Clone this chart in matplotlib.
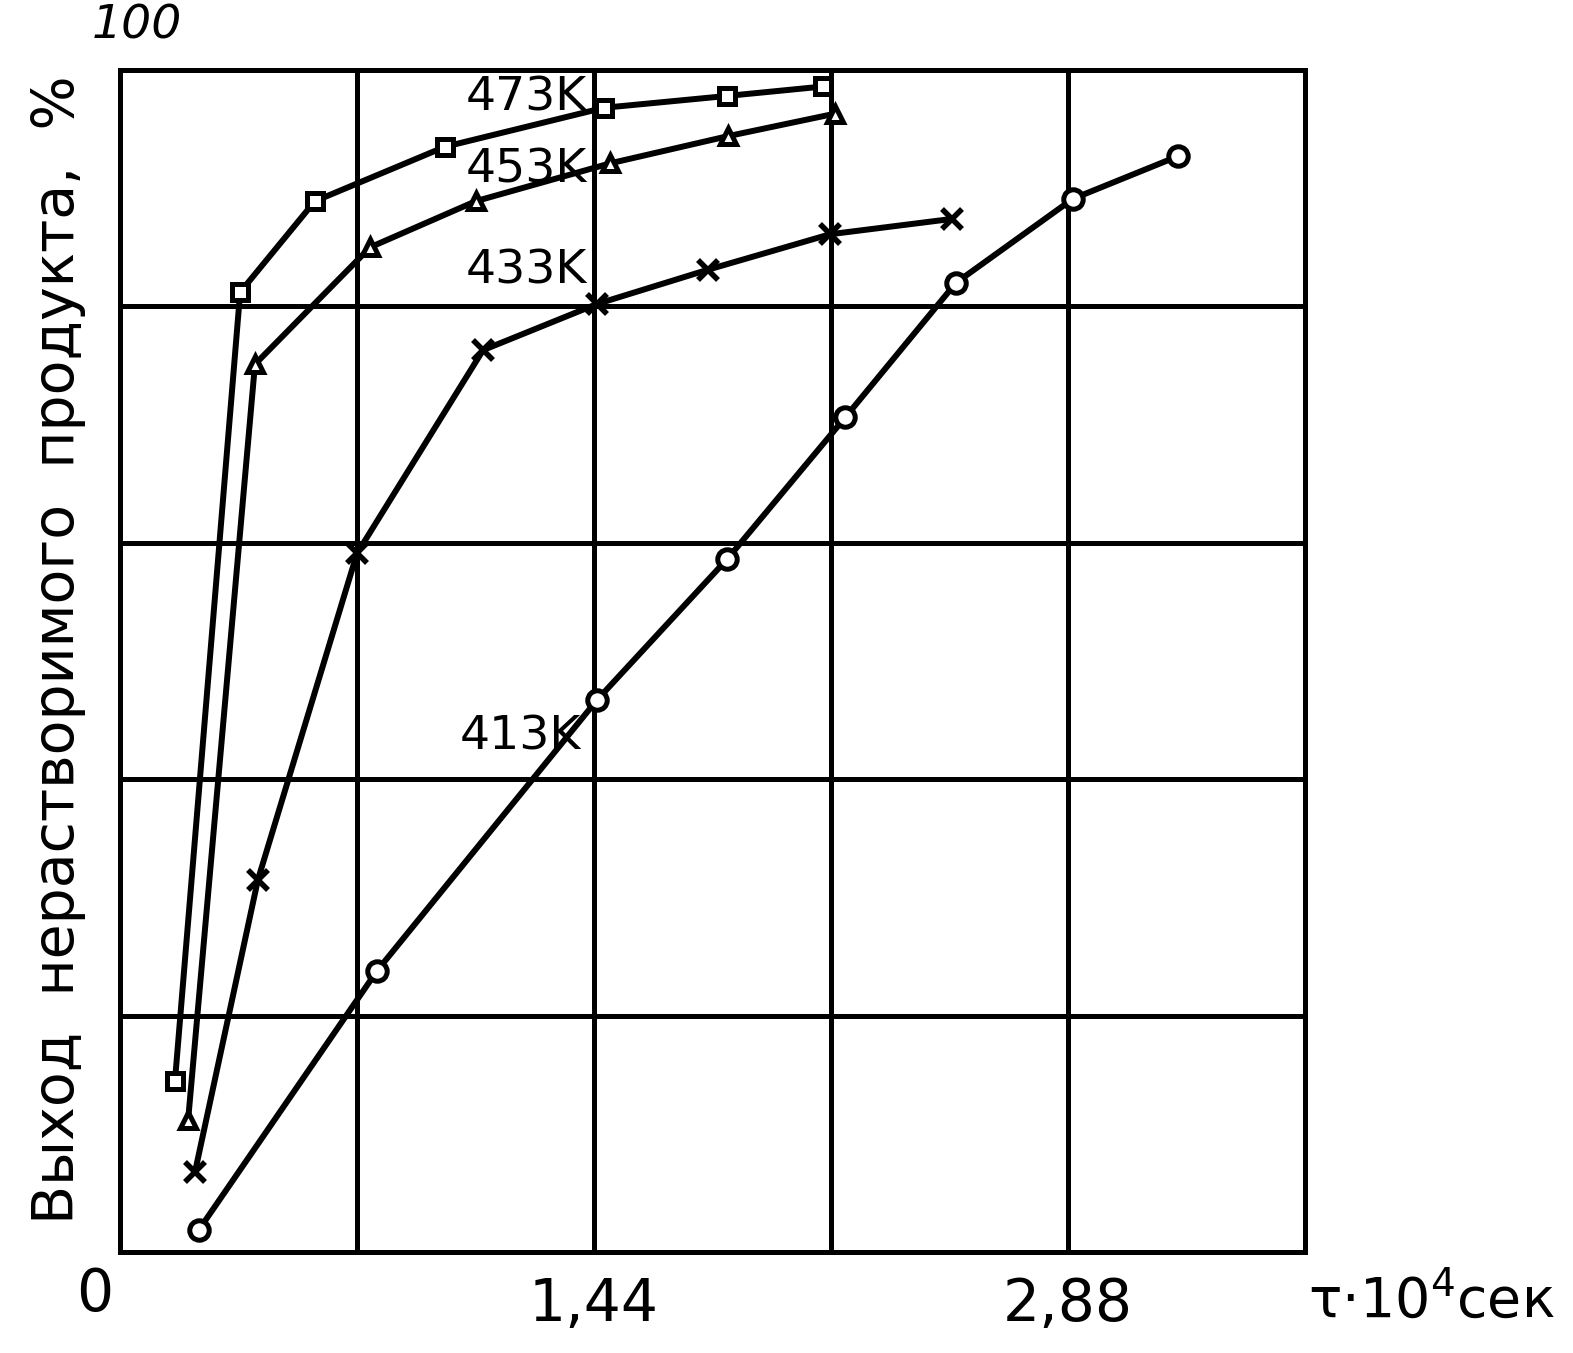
import matplotlib
matplotlib.use("Agg")
import matplotlib.pyplot as plt

# residence time, x 10^4 s
t_473 = [0.167, 0.365, 0.592, 0.987, 1.470, 1.844, 2.136]
y_473 = [14.5, 81.2, 88.9, 93.5, 96.8, 97.8, 98.6]

t_453 = [0.207, 0.410, 0.760, 1.081, 1.489, 1.847, 2.172]
y_453 = [11.2, 75.1, 85.0, 88.9, 92.1, 94.4, 96.3]

t_433 = [0.228, 0.419, 0.720, 1.103, 1.449, 1.786, 2.157, 2.528]
y_433 = [6.8, 31.5, 59.1, 76.3, 80.2, 83.1, 86.1, 87.4]

t_413 = [0.240, 0.781, 1.449, 1.844, 2.203, 2.540, 2.895, 3.214]
y_413 = [1.9, 23.8, 46.7, 58.6, 70.6, 82.0, 89.1, 92.7]

labels = ["473K", "453K", "433K", "413K"]
label_pos = [(1.42, 96.6), (1.42, 90.5), (1.42, 81.9), (1.40, 42.5)]

fig = plt.figure(figsize=(15.73, 13.53), dpi=100)
ax = fig.add_axes([0.0763, 0.0746, 0.7533, 0.8737])
ax.set_xlim(0, 3.6)
ax.set_ylim(0, 100)

for v in [0.72, 1.44, 2.16, 2.88]:
    ax.axvline(v, color="black", lw=3.6, zorder=1)
for h in [20, 40, 60, 80]:
    ax.axhline(h, color="black", lw=3.6, zorder=1)
for s in ax.spines.values():
    s.set_linewidth(3.6)

series = [
    (t_473, y_473, "s", 11),
    (t_453, y_453, "^", 12),
    (t_433, y_433, "x", 14),
    (t_413, y_413, "o", 14),
]
for t, y, m, ms in series:
    ax.plot(t, y, color="black", lw=4.3, zorder=2)
    if m == "x":
        ax.plot(t, y, ls="none", marker=m, ms=ms, mew=4, color="black",
                zorder=3)
    else:
        ax.plot(t, y, ls="none", marker=m, ms=ms, mew=3.6, mec="black",
                mfc="white", zorder=3)

for lab, (x, y) in zip(labels, label_pos):
    ax.text(x, y, lab, fontsize=34, ha="right", va="baseline", zorder=4)

ax.set_xticks([])
ax.set_yticks([])
ax.text(-0.02, -1.2, "0", fontsize=42, ha="right", va="top")
ax.text(1.44, -2.0, "1,44", fontsize=42, ha="center", va="top")
ax.text(2.88, -2.0, "2,88", fontsize=42, ha="center", va="top")
ax.text(0.05, 101.8, "100", fontsize=34, ha="center", va="bottom",
        style="italic")
ax.text(3.61, -1.8, "τ·10$^4$сек", fontsize=40, ha="left", va="top",
        clip_on=False)

fig.text(0.037, 0.52, "Выход  нерастворимого  продукта,  %", rotation=90,
         fontsize=41, ha="center", va="center")

fig.savefig("out.png", dpi=100, facecolor="white")
